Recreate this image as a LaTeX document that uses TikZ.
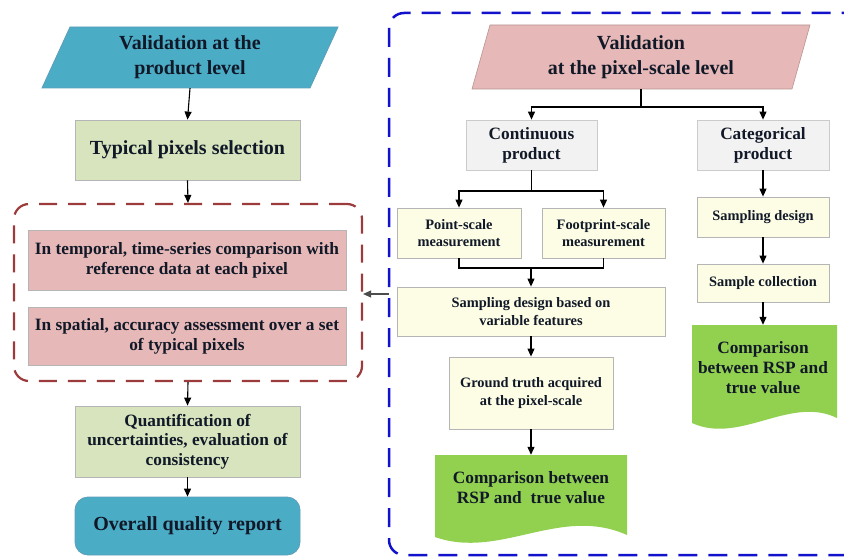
\documentclass[tikz,border=0pt]{standalone}
\usepackage{fontspec}
\setmainfont{Liberation Serif}
\usetikzlibrary{arrows.meta}
\definecolor{cyanA}{HTML}{4BACC6}
\definecolor{cyanB}{HTML}{5E9FB8}
\definecolor{greenbox}{HTML}{D7E4BD}
\definecolor{pinkbox}{HTML}{E6B9B8}
\definecolor{creambox}{HTML}{FDFDE5}
\definecolor{graybox}{HTML}{F2F2F2}
\definecolor{docgreen}{HTML}{92D050}
\definecolor{bordergray}{HTML}{B5B5B5}
\definecolor{txt}{HTML}{111827}
\definecolor{reddash}{HTML}{9B3B3B}
\definecolor{bluedash}{HTML}{1212CC}
\begin{document}
\begin{tikzpicture}[x=1pt,y=-1pt,
  every node/.style={text=txt, font=\bfseries, align=center, inner sep=1pt},
  bigtext/.style={font=\fontsize{20}{25}\selectfont\bfseries},
  midtext/.style={font=\fontsize{17.3}{20}\selectfont\bfseries},
  smalltext/.style={font=\fontsize{14.4}{17.5}\selectfont\bfseries},
  greenb/.style={draw=bordergray, fill=greenbox, line width=0.8pt},
  pinkb/.style={draw=bordergray, fill=pinkbox, line width=0.8pt},
  creamb/.style={draw=bordergray, fill=creambox, line width=0.8pt, smalltext},
  grayb/.style={draw=bordergray!70, fill=graybox, line width=0.8pt, midtext},
  conn/.style={line width=1.1pt, -{Triangle[length=8pt,width=7pt]}},
  plain/.style={line width=1.1pt},
  box/.style args={#1x#2}{minimum width=#1pt, minimum height=#2pt}
]
\useasboundingbox (0,0) rectangle (844,559);
\clip (0,0) rectangle (844,559);
\fill[white] (0,0) rectangle (844,559);

% ---------- left column ----------
\filldraw[fill=cyanA, draw=cyanB, line width=0.8pt] (42,88)--(70,27)--(338,27)--(310,88)--cycle;
\node[bigtext, box=240x61] (v1) at (190,57.5) {Validation at the\\product level};

\node[greenb, bigtext, box=225x60] (tps) at (187.5,150) {Typical pixels selection};

\node[draw=reddash, line width=2.2pt, dash pattern=on 18pt off 11pt, rounded corners=15pt,
      box=348x177] (rd) at (188,292.5) {};
\node[pinkb, midtext, box=318x60] (t1) at (187,260) {In temporal, time-series comparison with\\reference data at each pixel};
\node[pinkb, midtext, box=318x58] (t2) at (187,336) {In spatial, accuracy assessment over a set\\of typical pixels};

\node[greenb, font=\fontsize{17.3}{19.5}\selectfont\bfseries, box=225x71] (q) at (187.5,441.5) {Quantification of\\uncertainties, evaluation of\\consistency};
\node[draw=cyanB, fill=cyanA, line width=0.8pt, rounded corners=13pt, bigtext, box=225x58] (oqr) at (187.5,526) {Overall quality report};

\draw[conn] (v1.south) -- (tps.north);
\draw[conn] (tps.south) -- (rd.north);
\draw[conn] (rd.south) -- (q.north);
\draw[conn] (q.south) -- (oqr.north);

% ---------- right frame ----------
\draw[bluedash, line width=2.5pt, dash pattern=on 19pt off 11pt, rounded corners=15pt] (389,13) rectangle (880,555);
\coordinate (bl) at (389,294);
\draw[line width=1.1pt, draw=black!70, -{Triangle[length=8pt,width=7pt]}] (bl) -- (rd.east |- bl);

\filldraw[fill=pinkbox, draw=pinkbox!80!black, line width=0.6pt] (472,89)--(490,25)--(810,25)--(792,89)--cycle;
\node[bigtext, box=280x64] (v2) at (641,57) {Validation\\at the pixel-scale level};

\node[grayb, box=131x50] (cont) at (531.5,145) {Continuous\\product};
\node[grayb, box=132x50] (cat) at (763,145) {Categorical\\product};

\coordinate (j1) at (641,107);
\draw[plain] (v2.south) -- (j1);
\draw[conn] (j1) -| (cont.north);
\draw[conn] (j1) -| (cat.north);

\node[creamb, box=124x50] (ps) at (459,233) {Point-scale\\measurement};
\node[creamb, box=123x50] (fs) at (603.5,233) {Footprint-scale\\measurement};
\coordinate (j2) at (531.5,191);
\draw[plain] (cont.south) -- (j2);
\draw[conn] (j2) -| (ps.north);
\draw[conn] (j2) -| (fs.north);

\node[creamb, box=268x49] (sd) at (531,311.5) {Sampling design based on\\variable features};
\coordinate (j3) at (531,268);
\draw[plain] (ps.south) |- (fs.south |- j3) -- (fs.south);
\draw[conn] (j3) -- (sd.north);

\node[creamb, box=164x72] (gt) at (531,393) {Ground truth acquired\\at the pixel-scale};
\draw[conn] (sd.south) -- (gt.north);

\fill[docgreen] (435,455) -- (627,455) -- (627,535) .. controls (560,505) and (500,560) .. (435,537) -- cycle;
\node[midtext, box=180x66] (d1) at (531,488) {Comparison between\\RSP and\ \ true value};
\draw[conn] (gt.south) -- (d1.north);

\node[creamb, box=132x40] (sdc) at (763,217) {Sampling design};
\node[creamb, box=132x38] (sc) at (763,283) {Sample collection};
\draw[conn] (cat.south) -- (sdc.north);
\draw[conn] (sdc.south) -- (sc.north);

\fill[docgreen] (692,325) -- (837,325) -- (837,418) .. controls (790,395) and (740,445) .. (692,423) -- cycle;
\node[midtext, box=140x86] (d2) at (763,368) {Comparison\\between RSP and\\true value};
\draw[conn] (sc.south) -- (d2.north);
\end{tikzpicture}
\end{document}
